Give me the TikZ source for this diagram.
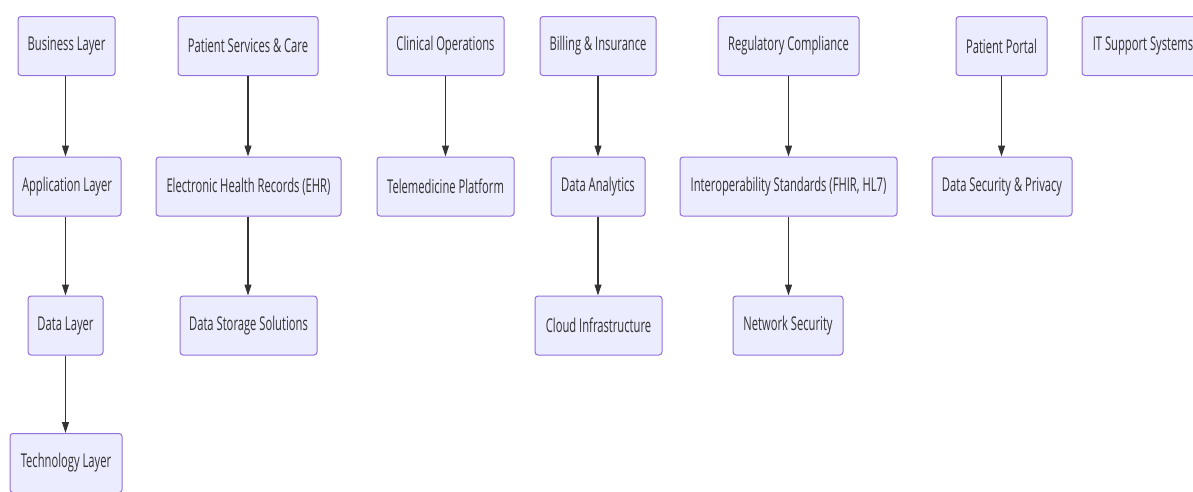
\documentclass[tikz,border=0pt]{standalone}
\usepackage{fontspec}
\newfontfamily\lblfont[FakeStretch=0.59]{Open Sans}
\usetikzlibrary{arrows.meta}
\definecolor{boxfill}{HTML}{ECECFF}
\definecolor{boxline}{HTML}{9370DB}
\definecolor{ink}{HTML}{333333}
\tikzset{
  box/.style={draw=boxline, fill=boxfill, line width=1pt, rounded corners=3pt,
    inner sep=0pt, minimum height=59pt, text=ink,
    font=\lblfont\fontsize{19pt}{22pt}\selectfont},
  link/.style={draw=ink, line width=1.1pt, -{Triangle[length=11pt,width=7pt]}}
}
\begin{document}
\begin{tikzpicture}[x=1pt,y=-1pt]
\path[use as bounding box, fill=white] (0,0) rectangle (1193,491);
\path[clip] (0,0) rectangle (1193,491);
% row 1
\node[box, minimum width=97pt]  (biz)    at (66.5,46) {Business Layer};
\node[box, minimum width=140pt] (psc)    at (248,46) {Patient Services \& Care};
\node[box, minimum width=117pt] (clin)   at (445.5,46) {Clinical Operations};
\node[box, minimum width=116pt] (bill)   at (598,46) {Billing \& Insurance};
\node[box, minimum width=141pt] (reg)    at (788.5,46) {Regulatory Compliance};
\node[box, minimum width=91pt]  (portal) at (1001.5,46) {Patient Portal};
\node[box, minimum width=122pt] (it)     at (1143,46) {IT Support Systems};
% row 2
\node[box, minimum width=108pt] (app)    at (67,186.5) {Application Layer};
\node[box, minimum width=185pt] (ehr)    at (248.5,186.5) {Electronic Health Records (EHR)};
\node[box, minimum width=137pt] (tele)   at (445.5,186.5) {Telemedicine Platform};
\node[box, minimum width=94pt]  (ana)    at (598,186.5) {Data Analytics};
\node[box, minimum width=217pt] (inter)  at (788.5,186.5) {Interoperability Standards (FHIR, HL7)};
\node[box, minimum width=140pt] (dsp)    at (1002,186.5) {Data Security \& Privacy};
% row 3
\node[box, minimum width=75pt]  (dl)     at (65.5,325.5) {Data Layer};
\node[box, minimum width=137pt] (store)  at (248.5,325.5) {Data Storage Solutions};
\node[box, minimum width=127pt] (cloud)  at (598.5,325.5) {Cloud Infrastructure};
\node[box, minimum width=110pt] (net)    at (788,325.5) {Network Security};
% row 4
\node[box, minimum width=112pt] (tech)   at (66,463) {Technology Layer};
% links
\draw[link] (biz.south -| dl.north) -- (app.north -| dl.north);
\draw[link] (app.south -| dl.north) -- (dl.north);
\draw[link] (dl.south) -- (tech.north -| dl.south);
\draw[link] (psc.south) -- (ehr.north -| psc.south);
\draw[link] (ehr.south -| psc.south) -- (store.north -| psc.south);
\draw[link] (clin.south) -- (tele.north);
\draw[link] (bill.south) -- (ana.north);
\draw[link] (ana.south) -- (cloud.north -| ana.south);
\draw[link] (reg.south) -- (inter.north);
\draw[link] (inter.south) -- (net.north -| inter.south);
\draw[link] (portal.south) -- (dsp.north -| portal.south);
\end{tikzpicture}
\end{document}
